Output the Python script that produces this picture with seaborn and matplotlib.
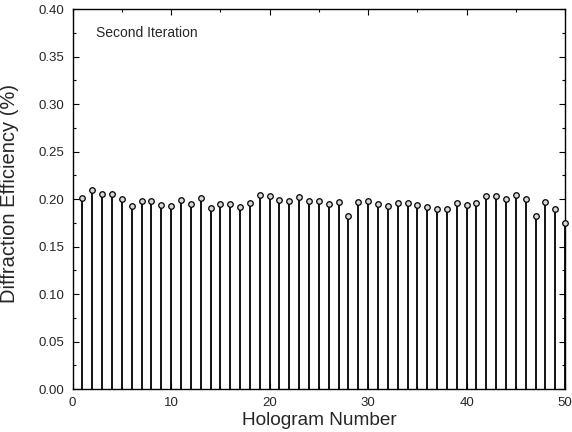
import numpy as np
import pandas as pd
import matplotlib
matplotlib.use('Agg')
import matplotlib.pyplot as plt
import seaborn as sns
from matplotlib.ticker import MultipleLocator

hologram = list(range(1, 51))
efficiency = [
    0.201, 0.210, 0.205, 0.205, 0.200, 0.193, 0.198, 0.198, 0.194, 0.193,
    0.199, 0.195, 0.201, 0.191, 0.195, 0.195, 0.192, 0.196, 0.204, 0.203,
    0.199, 0.198, 0.202, 0.198, 0.198, 0.195, 0.197, 0.182, 0.197, 0.198,
    0.195, 0.193, 0.196, 0.196, 0.194, 0.192, 0.190, 0.189, 0.196, 0.194,
    0.196, 0.203, 0.203, 0.200, 0.204, 0.200, 0.182, 0.197, 0.190, 0.175,
]
x_ticks = [0, 10, 20, 30, 40, 50]
y_ticks = [0.00, 0.05, 0.10, 0.15, 0.20, 0.25, 0.30, 0.35, 0.40]
note = 'Second Iteration'

df = pd.DataFrame({'hologram': hologram, 'efficiency': efficiency})

sns.set_style('ticks')
plt.rcParams['font.family'] = ['Liberation Sans', 'DejaVu Sans']

fig = plt.figure(figsize=(5.72, 4.32), dpi=100)
ax = fig.add_axes([0.127, 0.0995, 0.861, 0.8795])

# stems
ax.vlines(df['hologram'], 0, df['efficiency'], color='black', linewidth=1.3, zorder=2)
# circle heads
sns.scatterplot(data=df, x='hologram', y='efficiency', ax=ax, s=16, marker='o',
                facecolor='#d8d8d8', edgecolor='black', linewidth=0.9, zorder=3, clip_on=False)

ax.set_xlim(0, 50)
ax.set_ylim(0, 0.40)
ax.set_xticks(x_ticks)
ax.set_yticks(y_ticks)
ax.set_yticklabels([f'{v:.2f}' for v in y_ticks])
ax.xaxis.set_minor_locator(MultipleLocator(5))
ax.yaxis.set_minor_locator(MultipleLocator(0.025))
ax.tick_params(which='both', direction='in', top=True, right=True, labelsize=9.5,
               color='black', width=0.8)
ax.tick_params(which='major', length=4, pad=6)
ax.tick_params(which='minor', length=2)
for sp in ax.spines.values():
    sp.set_linewidth(1.0)
    sp.set_color('black')

ax.set_xlabel('Hologram Number', fontsize=13.7, labelpad=2)
ax.set_ylabel('Diffraction Efficiency (%)', fontsize=14.5)
ax.yaxis.set_label_coords(-0.108, 0.515)
ax.text(0.048, 0.955, note, transform=ax.transAxes, fontsize=10, va='top', ha='left')

fig.savefig('out.png', dpi=100)
